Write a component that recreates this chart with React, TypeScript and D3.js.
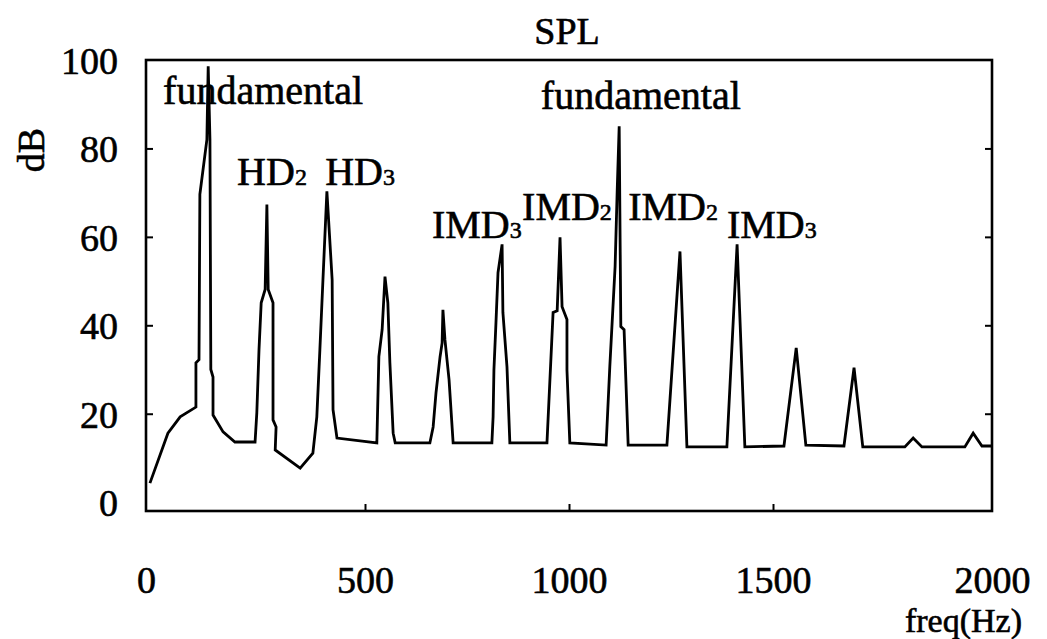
import React, { useEffect, useRef } from 'react'
import * as d3 from 'd3'

// spectrum trace: [freq Hz, level dB]
const freqs = [
  9, 50, 78, 114, 114, 121, 123, 139, 142, 146, 148, 153, 153, 176, 203, 249,
  253, 258, 263, 272, 276, 279, 290, 290, 297, 295, 352, 381, 390, 397, 404, 413,
  425, 427, 436, 529, 534, 542, 549, 556, 561, 569, 574, 659, 667, 674, 684, 689,
  691, 696, 701, 706, 716, 811, 814, 816, 821, 826, 836, 838, 848, 855, 946, 961,
  971, 978, 983, 995, 995, 1002, 1091, 1100, 1113, 1118, 1123, 1127, 1135, 1145, 1240, 1272,
  1289, 1387, 1412, 1431, 1525, 1553, 1575, 1662, 1685, 1705, 1801, 1820, 1840, 1938, 1957, 1977,
  2000
]
const levels = [
  4.3, 15.6, 19.3, 21.5, 31.5, 32.2, 69.6, 82, 98.6, 82, 30, 28.3, 19.7, 15.9, 13.6, 13.6,
  20.2, 34.5, 45.1, 48.1, 67.3, 48.1, 45.1, 18.6, 17, 11.8, 7.7, 11.1, 19.3, 34.5, 50.3, 70.3,
  50.3, 20.9, 14.5, 13.4, 32.9, 39, 51, 45.1, 31.5, 15.6, 13.4, 13.4, 17, 24.7, 32.9, 36,
  43.5, 36.7, 32.2, 27.7, 13.4, 13.4, 19.3, 29.9, 40.6, 51.9, 58.3, 42.9, 30.6, 13.4, 13.4, 42.9,
  43.3, 59.9, 44.2, 41.3, 29.9, 13.4, 12.9, 30.6, 53.3, 70, 85, 39.7, 39, 12.9, 12.9, 56.7,
  12.5, 12.5, 58.3, 12.5, 12.7, 34.9, 12.9, 12.7, 30.4, 12.5, 12.5, 14.5, 12.5, 12.5, 15.6, 12.7,
  12.7
]

const xTicks = [0, 500, 1000, 1500, 2000]
const yTicks = [0, 20, 40, 60, 80, 100]

// peak labels: text, subscript, freq of left edge, dB of baseline
const labelText = ['fundamental', 'HD', 'HD', 'IMD', 'IMD', 'IMD', 'IMD', 'fundamental']
const labelSub = ['', '2', '3', '3', '2', '2', '3', '']
const labelFreq = [39, 208, 409, 664, 885, 1145, 1387, 931]
const labelDb = [90, 71.8, 71.8, 59.8, 63.8, 63.8, 59.8, 89]

export default function App() {
  const ref = useRef<SVGSVGElement>(null)

  useEffect(() => {
    const svg = d3.select(ref.current)
    svg.selectAll('*').remove()

    const font = '"Liberation Serif", "Times New Roman", serif'
    // the printed axis is not evenly spaced, so use a polylinear scale
    const x = d3.scaleLinear().domain([0, 500, 1500, 2000]).range([146, 365, 773, 992])
    const y = d3.scaleLinear().domain([-2, 100]).range([511, 60])

    const g = svg.append('g')

    g.append('rect')
      .attr('x', 146).attr('y', 60)
      .attr('width', 992 - 146).attr('height', 511 - 60)
      .attr('fill', 'none').attr('stroke', '#000').attr('stroke-width', 2.6)

    const left = g.append('g').attr('transform', 'translate(146,0)')
      .call(d3.axisLeft(y).tickValues(yTicks).tickSize(-7).tickSizeOuter(0).tickPadding(28))
    const right = g.append('g').attr('transform', 'translate(992,0)')
      .call(d3.axisRight(y).tickValues(yTicks.slice(1, -1)).tickSize(-7).tickSizeOuter(0).tickFormat(() => ''))
    const bottom = g.append('g').attr('transform', 'translate(0,511)')
      .call(d3.axisBottom(x).tickValues(xTicks).tickSize(-7).tickSizeOuter(0).tickPadding(55)
        .tickFormat(d3.format('d')))

    for (const a of [left, right, bottom]) {
      a.select('.domain').remove()
      a.selectAll('line').attr('stroke', '#000').attr('stroke-width', 2)
      a.selectAll('text').attr('font-family', font).attr('font-size', 38).attr('fill', '#000')
        .attr('stroke', '#000').attr('stroke-width', 0.6)
    }
    left.selectAll('.tick').filter((d: any) => d === 0 || d === 100).select('line').remove()
    bottom.selectAll('.tick').filter((d: any) => d === 0 || d === 2000).select('line').remove()
    left.selectAll('text').attr('dy', '0.35em')
    bottom.selectAll('text').attr('dy', '0.71em')

    const pts: [number, number][] = freqs.map((f, i) => [f, levels[i]])
    g.append('path')
      .datum(pts)
      .attr('fill', 'none')
      .attr('stroke', '#000')
      .attr('stroke-width', 2.8)
      .attr('stroke-linejoin', 'miter')
      .attr('d', d3.line<[number, number]>().x(d => x(d[0])).y(d => y(d[1])))

    labelText.forEach((t, i) => {
      const txt = g.append('text')
        .attr('x', x(labelFreq[i]))
        .attr('y', y(labelDb[i]))
        .attr('font-family', font)
        .attr('font-size', 40)
        .attr('stroke', '#000').attr('stroke-width', 0.6)
        .text(t)
      if (labelSub[i]) {
        txt.append('tspan').attr('font-size', 24).text(labelSub[i])
      }
    })

    const plain = (sel: d3.Selection<SVGTextElement, unknown, null, undefined>) =>
      sel.attr('font-family', font).attr('font-size', 38)
        .attr('stroke', '#000').attr('stroke-width', 0.6)

    g.append('text')
      .attr('x', 567).attr('y', 44)
      .attr('text-anchor', 'middle')
      .call(plain)
      .text('SPL')

    g.append('text')
      .attr('transform', 'translate(44,150) rotate(-90)')
      .attr('text-anchor', 'middle')
      .call(plain)
      .text('dB')

    g.append('text')
      .attr('x', 1022).attr('y', 632)
      .attr('text-anchor', 'end')
      .call(plain)
      .attr('font-size', 34)
      .text('freq(Hz)')
  }, [])

  return (
    <svg ref={ref} width={1047} height={639}
      style={{ position: 'absolute', left: 0, top: 0, background: '#fff' }} />
  )
}
